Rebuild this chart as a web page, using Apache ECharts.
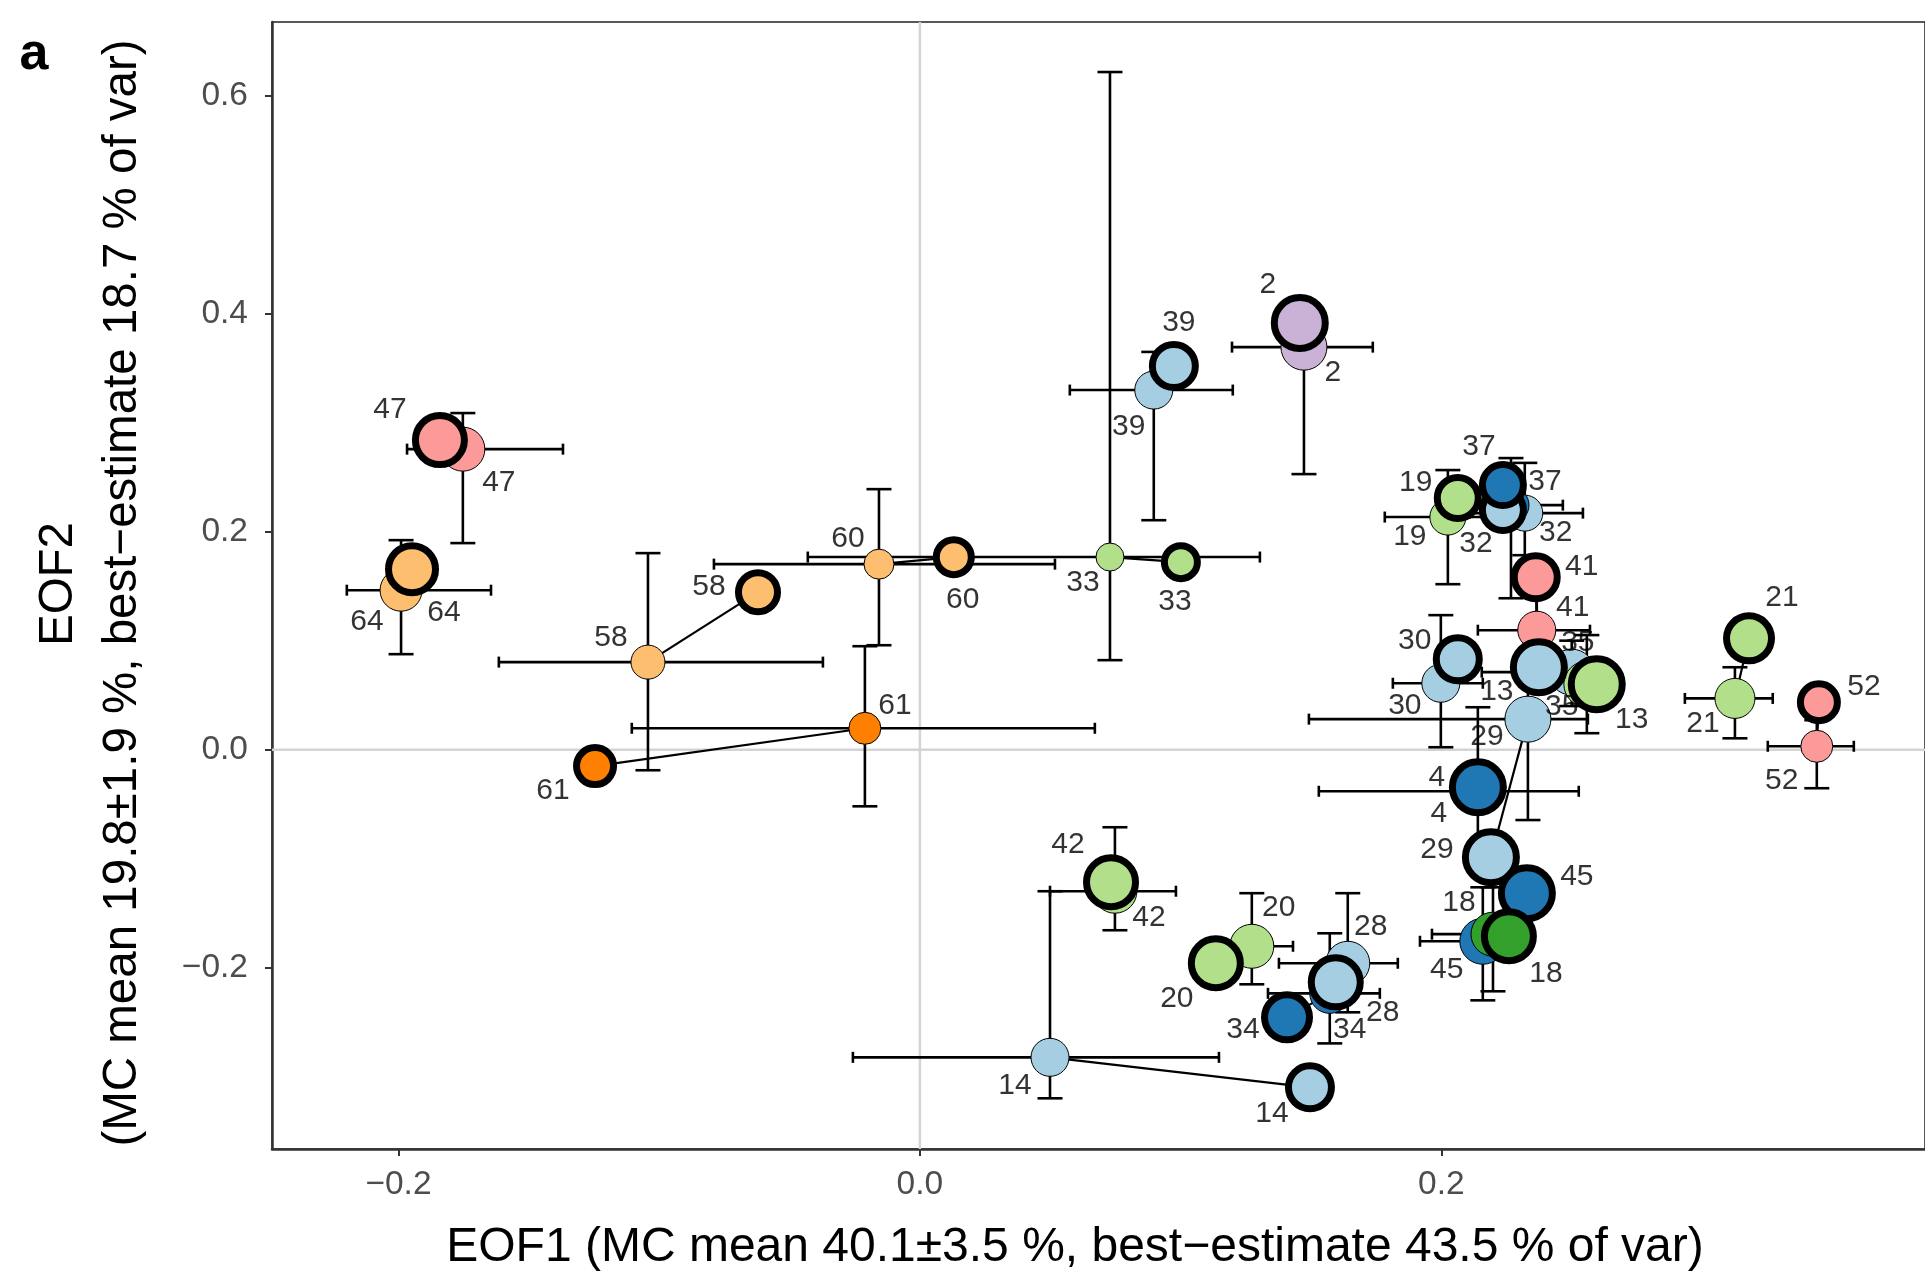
<!DOCTYPE html>
<html><head><meta charset="utf-8">
<script src="https://cdn.jsdelivr.net/npm/echarts@6/dist/echarts.min.js"></script>
<style>html,body{margin:0;padding:0;background:#fff}#c{width:1925px;height:1278px}</style>
</head><body><div id="c"></div>
<script>
// ---------- data ----------
const siteIds = ['47','64','58','60','61','33','39','2','19','32','37','41','30','35','13','29','4','45','18','28','34','20','42','14','21','52'];
const siteGroup = ['pink','lorange','lorange','lorange','orange','lgreen','lblue','purple','lgreen','lblue','dblue','pink','lblue','lblue','lgreen','lblue','dblue','dblue','green','lblue','dblue','lgreen','lgreen','lblue','lgreen','pink'];
const siteWeight = [10,9,5,3,4,2,7,11,6,6,6,7,7,11,11,11,11,11,10,10,8,10,10,7,8,4];

// best-estimate EOF loadings
const bestX = [-0.1841,-0.1948,-0.0621,0.0130,-0.1246,0.1001,0.0974,0.1457,0.2063,0.2236,0.2236,0.2362,0.2063,0.2374,0.2596,0.2190,0.2140,0.2328,0.2259,0.1595,0.1408,0.1135,0.0733,0.1496,0.3180,0.3448];
const bestY = [0.2840,0.1656,0.1445,0.1766,-0.0151,0.1720,0.3520,0.3914,0.2308,0.2198,0.2427,0.1582,0.0829,0.0756,0.0601,-0.0987,-0.0345,-0.1317,-0.1712,-0.2135,-0.2456,-0.1960,-0.1216,-0.3098,0.1021,0.0435];
// Monte-Carlo mean and ranges
const mcX = [-0.1753,-0.1990,-0.1043,-0.0157,-0.0211,0.0729,0.0897,0.1473,0.2025,0.2320,0.2267,0.2366,0.1998,0.2500,0.2558,0.2332,0.2140,0.2159,0.2198,0.1641,0.1572,0.1273,0.0748,0.0499,0.3126,0.3440];
const mcY = [0.2757,0.1463,0.0803,0.1702,0.0196,0.1767,0.3299,0.3693,0.2134,0.2170,0.2243,0.1096,0.0609,0.0711,0.0601,0.0280,-0.0382,-0.1758,-0.1693,-0.1960,-0.2236,-0.1804,-0.1299,-0.2823,0.0470,0.0031];
const mcXlo = [-0.1967,-0.2198,-0.1615,-0.0790,-0.1105,-0.0430,0.0575,0.1197,0.1783,0.2109,0.2071,0.2140,0.1814,0.2155,0.2454,0.1492,0.1530,0.1918,0.1964,0.1377,0.1335,0.1131,0.0499,-0.0257,0.2934,0.3252];
const mcXhi = [-0.1369,-0.1645,-0.0372,0.0518,0.0671,0.1304,0.1200,0.1737,0.2224,0.2543,0.2466,0.2570,0.2159,0.2646,0.2685,0.2562,0.2527,0.2339,0.2339,0.1833,0.1764,0.1431,0.0982,0.1147,0.3271,0.3582];
const mcYlo = [0.1895,0.0876,-0.0189,0.0958,-0.0520,0.0821,0.2105,0.2528,0.1518,0.1784,0.1389,0.0637,0.0022,0.0400,0.0151,-0.0646,-0.0923,-0.2300,-0.2217,-0.2410,-0.2695,-0.2153,-0.1657,-0.3199,0.0104,-0.0354];
const mcYhi = [0.3088,0.1922,0.1803,0.2390,0.0949,0.6217,0.3649,0.3850,0.2565,0.2631,0.2675,0.1464,0.1234,0.1000,0.1051,0.0637,0.0389,-0.1263,-0.1263,-0.1317,-0.1685,-0.1317,-0.0712,-0.1299,0.0756,0.0270];

const xTicks = [-0.2, 0.0, 0.2];
const yTicks = [-0.2, 0.0, 0.2, 0.4, 0.6];
const xTitle = 'EOF1 (MC mean 40.1±3.5 %, best\u2212estimate 43.5 % of var)';
const yTitle1 = 'EOF2';
const yTitle2 = '(MC mean 19.8±1.9 %, best\u2212estimate 18.7 % of var)';

// ---------- layout / style ----------
const palette = {pink:'#fb9a99', lorange:'#fdbf6f', orange:'#ff7f00', lgreen:'#b2df8a', lblue:'#a6cee3', dblue:'#1f78b4', green:'#33a02c', purple:'#cab2d6'};
const labelNudgeMc = [[36,34],[-34,32],[-37,-24],[-31,-25],[30,-23],[-27,26],[-25,37],[29,26],[-38,20],[31,20],[34,-23],[36,-22],[-36,22],[-10,35],[-90,8],[-41,18],[-39,22],[-36,28],[-34,-31],[23,-37],[20,36],[27,-39],[34,27],[-35,28],[-32,25],[-35,34]];
const labelNudgeBest = [[-50,-30],[32,44],[-49,-5],[9,43],[-42,25],[-6,40],[5,-43],[-32,-38],[-42,-15],[-27,34],[-24,-38],[46,-10],[-43,-19],[39,-25],[35,36],[-54,-7],[-41,-10],[50,-16],[37,37],[47,30],[-44,12],[-39,35],[-43,-37],[-38,26],[33,-41],[45,-15]];
const X_MIN = -0.2485, X_MAX = 0.3855, Y_MIN = -0.3664, Y_MAX = 0.6676;
const FONT = '"Liberation Sans", Arial, Helvetica, sans-serif';
const radius = w => 12 + w;
const fmt = v => (v < 0 ? '\u2212' : '') + Math.abs(v).toFixed(1);

const errData = siteIds.map((id,i)=>[mcX[i],mcY[i],mcXlo[i],mcXhi[i],mcYlo[i],mcYhi[i]]);
const linkData = siteIds.map((id,i)=>[mcX[i],mcY[i],bestX[i],bestY[i]]);
const mcData = siteIds.map((id,i)=>({value:[mcX[i],mcY[i]], symbolSize:2*radius(siteWeight[i]), itemStyle:{color:palette[siteGroup[i]]}}));
const bestData = siteIds.map((id,i)=>({value:[bestX[i],bestY[i]], symbolSize:2*radius(siteWeight[i])+5, itemStyle:{color:palette[siteGroup[i]]}}));
const labelData = [];
siteIds.forEach((id,i)=>{
  labelData.push({value:[mcX[i],mcY[i]], name:id, label:{offset:labelNudgeMc[i]}});
  labelData.push({value:[bestX[i],bestY[i]], name:id, label:{offset:labelNudgeBest[i]}});
});

function renderErr(params, api){
  const x=api.value(0), y=api.value(1), xl=api.value(2), xh=api.value(3), yl=api.value(4), yh=api.value(5);
  const pL=api.coord([xl,y]), pR=api.coord([xh,y]), pB=api.coord([x,yl]), pT=api.coord([x,yh]);
  const st={stroke:'#000', lineWidth:2.6};
  const hc=5.5, vc=12.5;
  const seg=(x1,y1,x2,y2)=>({type:'line', shape:{x1:x1,y1:y1,x2:x2,y2:y2}, style:st});
  return {type:'group', children:[
    seg(pL[0],pL[1],pR[0],pR[1]),
    seg(pL[0],pL[1]-hc,pL[0],pL[1]+hc),
    seg(pR[0],pR[1]-hc,pR[0],pR[1]+hc),
    seg(pB[0],pB[1],pT[0],pT[1]),
    seg(pB[0]-vc,pB[1],pB[0]+vc,pB[1]),
    seg(pT[0]-vc,pT[1],pT[0]+vc,pT[1])
  ]};
}
function renderLink(params, api){
  const a=api.coord([api.value(0),api.value(1)]), b=api.coord([api.value(2),api.value(3)]);
  return {type:'line', shape:{x1:a[0],y1:a[1],x2:b[0],y2:b[1]}, style:{stroke:'#000', lineWidth:2.2}};
}

const chart = echarts.init(document.getElementById('c'), null, {renderer:'canvas'});
chart.setOption({
  animation:false,
  backgroundColor:'#fff',
  grid:{left:272, right:0, top:22, bottom:129, show:true, borderColor:'#222', borderWidth:1.5, containLabel:false},
  xAxis:{type:'value', min:X_MIN, max:X_MAX, splitLine:{show:false},
    axisLine:{show:true, onZero:false, lineStyle:{color:'#333', width:2.5}},
    axisTick:{show:true, length:7, customValues:xTicks, lineStyle:{color:'#333', width:2}},
    axisLabel:{customValues:xTicks, formatter:fmt, fontSize:33.5, color:'#4d4d4d', margin:19, fontFamily:FONT}},
  yAxis:{type:'value', min:Y_MIN, max:Y_MAX, splitLine:{show:false},
    axisLine:{show:true, onZero:false, lineStyle:{color:'#333', width:2.5}},
    axisTick:{show:true, length:7, customValues:yTicks, lineStyle:{color:'#333', width:2}},
    axisLabel:{customValues:yTicks, formatter:fmt, fontSize:33.5, color:'#4d4d4d', margin:24, fontFamily:FONT}},
  graphic:[
    {type:'text', x:1075, y:1248, style:{text:xTitle, fontSize:48, fontFamily:FONT, fill:'#000', align:'center', verticalAlign:'middle'}},
    {type:'text', x:59, y:584, rotation:Math.PI/2, style:{text:yTitle1, fontSize:47.5, fontFamily:FONT, fill:'#000', align:'center', verticalAlign:'middle'}},
    {type:'text', x:123, y:593, rotation:Math.PI/2, style:{text:yTitle2, fontSize:47.5, fontFamily:FONT, fill:'#000', align:'center', verticalAlign:'middle'}},
    {type:'text', x:34, y:55, style:{text:'a', fontSize:52, fontWeight:'bold', fontFamily:FONT, fill:'#000', align:'center', verticalAlign:'middle'}}
  ],
  series:[
    {type:'line', data:[[0,Y_MIN],[0,Y_MAX]], symbol:'none', silent:true, z:0, lineStyle:{color:'#d4d4d4', width:2.5}},
    {type:'line', data:[[X_MIN,0],[X_MAX,0]], symbol:'none', silent:true, z:0, lineStyle:{color:'#d4d4d4', width:2.5}},
    {type:'custom', renderItem:renderErr, data:errData, encode:{x:[0,2,3], y:[1,4,5]}, silent:true, z:1, clip:true},
    {type:'custom', renderItem:renderLink, data:linkData, encode:{x:[0,2], y:[1,3]}, silent:true, z:1, clip:true},
    {type:'scatter', data:mcData, symbol:'circle', z:2, silent:true, itemStyle:{borderColor:'#000', borderWidth:1, opacity:1}},
    {type:'scatter', data:bestData, symbol:'circle', z:3, silent:true, itemStyle:{borderColor:'#000', borderWidth:7, opacity:1}},
    {type:'scatter', data:labelData, symbol:'circle', symbolSize:1, z:5, silent:true, itemStyle:{color:'rgba(0,0,0,0)'},
      label:{show:true, position:'inside', formatter:p=>p.name, fontSize:30, color:'#000', fontFamily:FONT}}
  ]
});
</script></body></html>
